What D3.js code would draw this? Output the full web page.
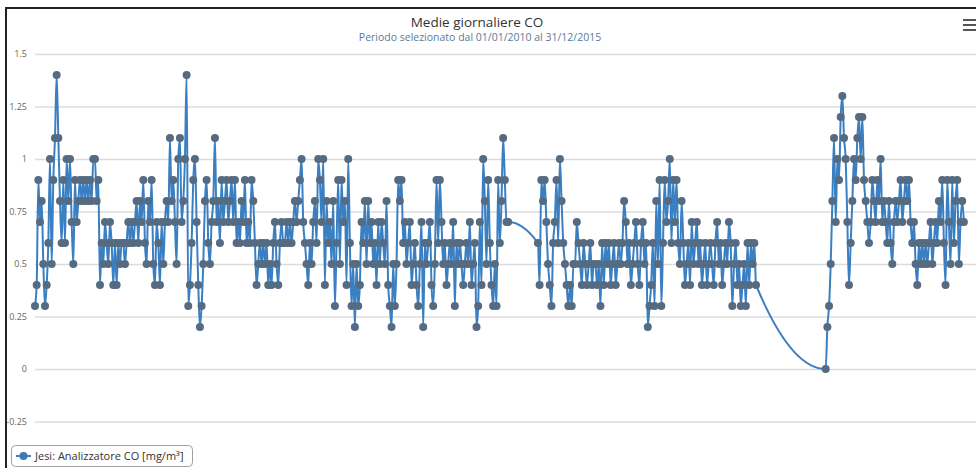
<!DOCTYPE html>
<html>
<head>
<meta charset="utf-8">
<script src="https://cdn.jsdelivr.net/npm/d3@7"></script>
<style>
  body { margin: 0; background: #fff; }
  svg { display: block; font-family: "Open Sans", sans-serif; }
</style>
</head>
<body>
<svg id="chart" width="976" height="468"></svg>
<script>
// Daily CO averages, Jesi station (mg/m³)
const chartTitle = "Medie giornaliere CO";
const chartSubtitle = "Periodo selezionato dal 01/01/2010 al 31/12/2015";
const seriesName = "Jesi: Analizzatore CO [mg/m³]";

const yTicks = [-0.25, 0, 0.25, 0.5, 0.75, 1, 1.25, 1.5];
const yTickLabels = ["-0.25", "0", "0.25", "0.5", "0.75", "1", "1.25", "1.5"];
const periodDates = ["2010-01-01", "2015-12-31"];

// First run of readings
const run1Dates = ["2010-01-01", "2013-01-18"];
const run1Values = [
  0.3,0.4,0.9,0.7,0.8,0.5,0.3,0.4,0.6,1.0,0.5,0.9,
  1.1,1.4,1.1,0.8,0.6,0.9,0.6,1.0,0.8,1.0,0.7,0.5,
  0.9,0.7,0.8,0.9,0.8,0.9,0.8,0.9,0.8,0.9,0.8,1.0,
  1.0,0.8,0.9,0.4,0.6,0.5,0.7,0.6,0.5,0.7,0.6,0.4,
  0.6,0.4,0.6,0.5,0.6,0.6,0.5,0.6,0.7,0.6,0.7,0.6,
  0.7,0.8,0.6,0.8,0.7,0.9,0.6,0.5,0.8,0.7,0.9,0.5,
  0.4,0.7,0.6,0.4,0.7,0.5,0.7,0.8,0.7,1.1,0.8,0.9,
  0.7,0.5,1.0,1.1,0.7,0.8,1.0,1.4,0.3,0.4,0.6,0.9,
  1.0,0.7,0.4,0.2,0.3,0.5,0.8,0.9,0.6,0.5,0.7,0.8,
  1.1,0.7,0.8,0.6,0.9,0.7,0.8,0.9,0.7,0.8,0.9,0.7,
  0.9,0.6,0.7,0.6,0.8,0.7,0.9,0.6,0.7,0.6,0.9,0.8,
  0.6,0.4,0.5,0.6,0.5,0.6,0.5,0.6,0.4,0.5,0.4,0.6,
  0.7,0.5,0.4,0.6,0.7,0.6,0.6,0.7,0.6,0.7,0.6,0.7,
  0.8,0.7,0.8,0.9,1.0,0.7,0.6,0.5,0.4,0.6,0.5,0.7,
  0.8,0.6,1.0,0.9,0.7,1.0,0.4,0.8,0.6,0.7,0.5,0.8,
  0.3,0.6,0.9,0.5,0.9,0.7,0.8,0.4,1.0,0.6,0.3,0.5,
  0.2,0.5,0.3,0.4,0.7,0.6,0.8,0.5,0.8,0.6,0.7,0.5,
  0.6,0.4,0.7,0.5,0.7,0.6,0.5,0.8,0.4,0.3,0.2,0.5,
  0.3,0.5,0.9,0.8,0.9,0.6,0.7,0.5,0.6,0.7,0.4,0.5,
  0.6,0.4,0.3,0.5,0.7,0.2,0.6,0.5,0.6,0.7,0.4,0.3,
  0.5,0.9,0.6,0.9,0.7,0.5,0.6,0.4,0.5,0.6,0.5,0.7,
  0.3,0.6,0.5,0.6,0.5,0.4,0.5,0.6,0.5,0.7,0.4,0.5,
  0.6,0.2,0.3,0.7,0.4,1.0,0.8,0.5,0.9,0.6,0.4,0.3,
  0.5,0.3,0.9,0.6,0.8,1.1,0.9,0.7,0.7
];

// Second run, after the early-2013 interruption
const run2Dates = ["2013-03-29", "2014-08-24"];
const run2Values = [
  0.6,0.4,0.9,0.8,0.9,0.7,0.5,0.4,0.3,0.6,
  0.7,0.9,0.6,1.0,0.8,0.6,0.5,0.4,0.3,0.4,0.3,0.5,
  0.5,0.7,0.6,0.5,0.4,0.6,0.5,0.4,0.5,0.6,0.4,0.5,
  0.5,0.4,0.5,0.3,0.6,0.4,0.6,0.5,0.6,0.4,0.5,0.6,
  0.4,0.5,0.6,0.5,0.6,0.8,0.7,0.5,0.6,0.4,0.5,0.6,
  0.7,0.5,0.4,0.6,0.7,0.5,0.6,0.2,0.3,0.4,0.6,0.3,
  0.8,0.5,0.9,0.3,0.6,0.9,0.7,0.8,1.0,0.6,0.9,0.7,
  0.9,0.6,0.5,0.8,0.6,0.4,0.5,0.6,0.4,0.7,0.5,0.6,
  0.7,0.5,0.6,0.4,0.5,0.6,0.4,0.5,0.6,0.5,0.4,0.6,
  0.7,0.5,0.6,0.4,0.5,0.6,0.5,0.7,0.6,0.3,0.5,0.6,
  0.4,0.5,0.3,0.4,0.5,0.3,0.6,0.4,0.6,0.5,0.6,0.4
];

// Third run, 2015
const run3Dates = ["2015-02-04", "2015-12-26"];
const run3Values = [
  0.0,0.2,0.3,0.5,0.8,1.1,0.7,1.0,0.9,1.2,1.3,1.1,
  1.0,0.7,0.4,0.6,0.8,1.0,0.9,1.1,1.2,1.0,1.2,0.9,
  0.8,0.7,0.6,0.7,0.9,0.8,0.7,0.9,0.8,1.0,0.7,0.8,
  0.7,0.6,0.8,0.6,0.5,0.7,0.8,0.7,0.8,0.9,0.7,0.8,
  0.9,0.8,0.9,0.7,0.6,0.7,0.5,0.4,0.6,0.5,0.6,0.5,
  0.6,0.5,0.6,0.7,0.5,0.6,0.7,0.6,0.8,0.7,0.9,0.6,
  0.4,0.9,0.7,0.5,0.9,0.6,0.8,0.9,0.5,0.7,0.8,0.7
];

const lineColor = "#3a7fc1";
const markerColor = "#556b82";

const parse = d3.utcParse("%Y-%m-%d");

// spread each run's readings across its own date span
function toPoints(range, values) {
  const t0 = parse(range[0]).getTime();
  const t1 = parse(range[1]).getTime();
  const step = (t1 - t0) / (values.length - 1);
  return values.map((v, i) => ({ date: new Date(t0 + i * step), value: v }));
}

const points = [
  ...toPoints(run1Dates, run1Values),
  ...toPoints(run2Dates, run2Values),
  ...toPoints(run3Dates, run3Values)
];

const svg = d3.select("#chart");
const plot = { left: 35, right: 966, top: 54, bottom: 421.5 };

const x = d3.scaleUtc()
  .domain(periodDates.map(parse))
  .range([plot.left, plot.right]);

const y = d3.scaleLinear()
  .domain([-0.25, 1.5])
  .range([plot.bottom, plot.top]);

// outer frame
svg.append("path")
  .attr("d", "M6,480 L6,8 L990,8")
  .attr("fill", "none")
  .attr("stroke", "#222")
  .attr("stroke-width", 2);

// title block
svg.append("text")
  .attr("x", 477).attr("y", 27)
  .attr("text-anchor", "middle")
  .attr("font-size", 13.5)
  .attr("fill", "#333")
  .text(chartTitle);

svg.append("text")
  .attr("x", 480).attr("y", 41)
  .attr("text-anchor", "middle")
  .attr("font-size", 10.5)
  .attr("fill", "#5b7a99")
  .text(chartSubtitle);

// context menu icon
const menu = svg.append("g").attr("stroke", "#555").attr("stroke-width", 2);
[20, 25, 30].forEach(yy => {
  menu.append("line").attr("x1", 963).attr("x2", 976).attr("y1", yy).attr("y2", yy);
});

// y axis with grid lines
const yAxis = d3.axisLeft(y)
  .tickValues(yTicks)
  .tickSize(-(976 - plot.left))
  .tickPadding(8)
  .tickFormat((d, i) => yTickLabels[i]);

const gy = svg.append("g")
  .attr("transform", `translate(${plot.left},0)`)
  .call(yAxis);
gy.select(".domain").remove();
gy.selectAll(".tick line").attr("stroke", "#dcdcdc").attr("stroke-width", 1.5);
gy.selectAll(".tick text")
  .attr("fill", "#666")
  .attr("font-size", 9)
  .attr("font-family", "Open Sans, sans-serif");

// series line
const line = d3.line()
  .x(d => x(d.date))
  .y(d => y(d.value))
  .curve(d3.curveMonotoneX);

svg.append("path")
  .datum(points)
  .attr("fill", "none")
  .attr("stroke", lineColor)
  .attr("stroke-width", 2)
  .attr("d", line);

// markers
svg.append("g")
  .selectAll("circle")
  .data(points)
  .join("circle")
  .attr("cx", d => x(d.date))
  .attr("cy", d => y(d.value))
  .attr("r", 4)
  .attr("fill", markerColor);

// legend
const legend = svg.append("g").attr("transform", "translate(11,445)");
legend.append("rect")
  .attr("x", 0.5).attr("y", 0.5)
  .attr("width", 181).attr("height", 21)
  .attr("rx", 4)
  .attr("fill", "#fff")
  .attr("stroke", "#a0a0a0");
legend.append("line")
  .attr("x1", 5).attr("x2", 20).attr("y1", 11).attr("y2", 11)
  .attr("stroke", lineColor).attr("stroke-width", 2);
legend.append("circle")
  .attr("cx", 12.5).attr("cy", 11).attr("r", 4)
  .attr("fill", "#3f78b0");
legend.append("text")
  .attr("x", 24).attr("y", 15)
  .attr("font-size", 11)
  .attr("fill", "#333")
  .text(seriesName);
</script>
</body>
</html>
